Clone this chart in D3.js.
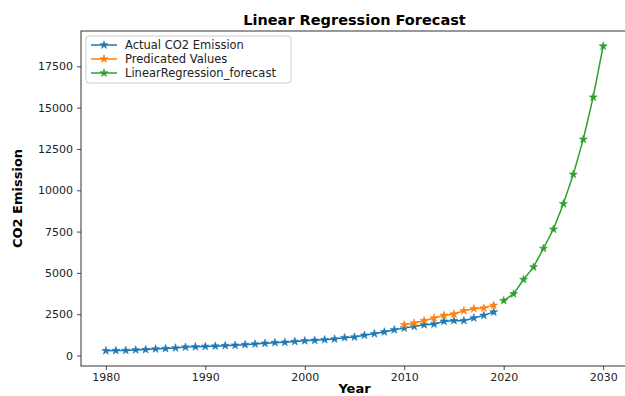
<!DOCTYPE html>
<html>
<head>
<meta charset="utf-8">
<script src="https://cdn.jsdelivr.net/npm/d3@7"></script>
<style>
  html, body { margin: 0; padding: 0; background: #fff; }
  svg { display: block; font-family: "DejaVu Sans", sans-serif; }
</style>
</head>
<body>
<svg id="chart" width="625" height="396"></svg>
<script>
// Observed CO2 emission, 1980–2019
const actualYears = d3.range(1980, 2020);
const actualValues = [
  290, 300, 310, 340, 360, 400, 420, 460, 510, 530,
  550, 570, 600, 620, 660, 700, 740, 780, 800, 850,
  890, 920, 960, 1000, 1080, 1120, 1230, 1320, 1430, 1560,
  1660, 1760, 1860, 1900, 2070, 2110, 2110, 2270, 2430, 2630
];

// In-sample predictions, 2010–2019
const predictedYears = d3.range(2010, 2020);
const predictedValues = [1860, 1965, 2110, 2270, 2430, 2510, 2710, 2835, 2875, 3040];

// Out-of-sample linear regression forecast, 2020–2030
const forecastYears = d3.range(2020, 2031);
const forecastValues = [3320, 3730, 4600, 5350, 6480, 7640, 9180, 10960, 13080, 15630, 18720];

const yTicks = [0, 2500, 5000, 7500, 10000, 12500, 15000, 17500];
const xTicks = [1980, 1990, 2000, 2010, 2020, 2030];

const seriesList = [
  { name: "Actual CO2 Emission", years: actualYears, values: actualValues, color: "#1f77b4" },
  { name: "Predicated Values", years: predictedYears, values: predictedValues, color: "#ff7f0e" },
  { name: "LinearRegression_forecast", years: forecastYears, values: forecastValues, color: "#2ca02c" }
];

const svg = d3.select("#chart");
const plot = { left: 81, right: 628, top: 31, bottom: 366 };

const x = d3.scaleLinear().domain([1977.5, 2032.5]).range([plot.left, plot.right]);
const y = d3.scaleLinear().domain([-632, 19636]).range([plot.bottom, plot.top]);

// Axes
const xAxis = svg.append("g")
  .attr("transform", `translate(0,${plot.bottom})`)
  .call(d3.axisBottom(x).tickValues(xTicks).tickFormat(d3.format("d")).tickSize(4).tickPadding(3));
const yAxis = svg.append("g")
  .attr("transform", `translate(${plot.left},0)`)
  .call(d3.axisLeft(y).tickValues(yTicks).tickFormat(d3.format("d")).tickSize(4).tickPadding(4));

[xAxis, yAxis].forEach(g => {
  g.select(".domain").remove();
  g.selectAll("line").attr("stroke", "#333").attr("stroke-width", 0.9);
  g.selectAll("text").attr("fill", "#222").style("font-size", "11px").style("font-family", "DejaVu Sans, sans-serif");
});

// Plot frame
svg.append("rect")
  .attr("x", plot.left).attr("y", plot.top)
  .attr("width", plot.right - plot.left).attr("height", plot.bottom - plot.top)
  .attr("fill", "none").attr("stroke", "#333").attr("stroke-width", 1);

// Series lines and star markers
const line = d3.line().x(d => x(d[0])).y(d => y(d[1]));
const star = d3.symbol().type(d3.symbolStar).size(20);

seriesList.forEach(s => {
  const pts = s.years.map((yr, i) => [yr, s.values[i]]);
  svg.append("path")
    .datum(pts)
    .attr("d", line)
    .attr("fill", "none")
    .attr("stroke", s.color)
    .attr("stroke-width", 1.5);
  svg.append("g").selectAll("path")
    .data(pts)
    .join("path")
    .attr("transform", d => `translate(${x(d[0])},${y(d[1])})`)
    .attr("d", star)
    .attr("fill", s.color)
    .attr("stroke", s.color)
    .attr("stroke-width", 0.6);
});

// Title and axis labels
svg.append("text")
  .attr("x", (plot.left + plot.right) / 2).attr("y", 25)
  .attr("text-anchor", "middle")
  .style("font-size", "14.5px").style("font-weight", "bold")
  .text("Linear Regression Forecast");

svg.append("text")
  .attr("x", (plot.left + plot.right) / 2).attr("y", 393)
  .attr("text-anchor", "middle")
  .style("font-size", "13px").style("font-weight", "bold")
  .text("Year");

svg.append("text")
  .attr("transform", `translate(22,${(plot.top + plot.bottom) / 2}) rotate(-90)`)
  .attr("text-anchor", "middle")
  .style("font-size", "13px").style("font-weight", "bold")
  .text("CO2 Emission");

// Legend
const legend = svg.append("g").attr("transform", "translate(86,36)");
legend.append("rect")
  .attr("width", 205).attr("height", 47).attr("rx", 3)
  .attr("fill", "#fff").attr("fill-opacity", 0.8)
  .attr("stroke", "#ccc").attr("stroke-width", 1);

seriesList.forEach((s, i) => {
  const row = legend.append("g").attr("transform", `translate(0,${9 + i * 14})`);
  row.append("line")
    .attr("x1", 5).attr("x2", 31).attr("y1", 0).attr("y2", 0)
    .attr("stroke", s.color).attr("stroke-width", 1.5);
  row.append("path")
    .attr("transform", "translate(18,0)")
    .attr("d", star)
    .attr("fill", s.color).attr("stroke", s.color).attr("stroke-width", 0.6);
  row.append("text")
    .attr("x", 39).attr("y", 0).attr("dy", "0.35em")
    .style("font-size", "11.5px")
    .attr("fill", "#222")
    .text(s.name);
});
</script>
</body>
</html>
